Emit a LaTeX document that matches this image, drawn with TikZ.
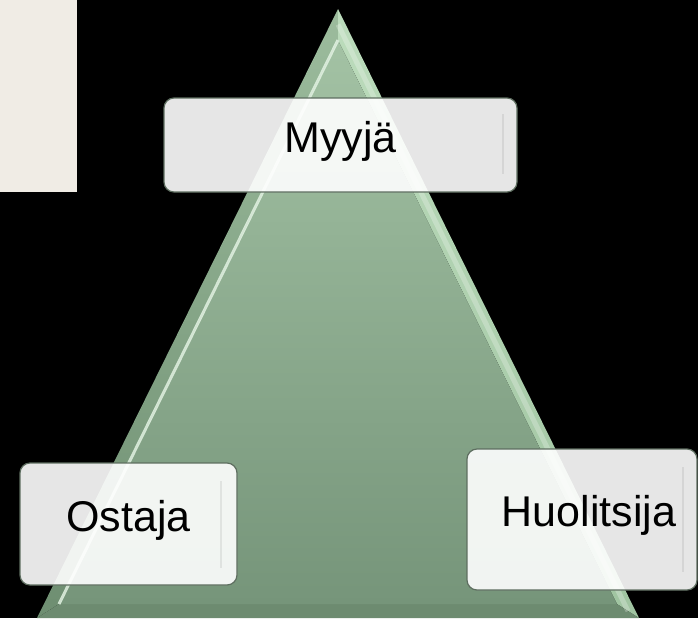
\documentclass[tikz,border=0pt]{standalone}
\usepackage{fontspec}
\setmainfont{Liberation Sans}
\usetikzlibrary{calc}
\definecolor{beige}{HTML}{F0ECE5}
\definecolor{boxline}{HTML}{5E6E60}
\definecolor{gtop}{HTML}{A3C2A4}
\definecolor{gbot}{HTML}{76957A}
\definecolor{ltop}{HTML}{9CBC9D}
\definecolor{lbot}{HTML}{6E8E71}
\definecolor{rtop}{HTML}{BCDCBC}
\definecolor{rbot}{HTML}{A0C4A1}
\definecolor{bface}{HTML}{6D8B70}
\definecolor{hilite}{HTML}{E2F2E2}
\tikzset{
  box/.style={draw=boxline, line width=0.6pt, fill=white, fill opacity=0.9, text opacity=1,
    rounded corners=5pt, font=\fontsize{21.5}{26}\selectfont, text height=0.72em, text depth=0pt},
  bevelline/.style={draw=black, draw opacity=0.07, line width=1pt}
}
\begin{document}
\begin{tikzpicture}[x=0.5pt,y=-0.5pt]
\useasboundingbox (0,0) rectangle (698,618);
\fill[black] (0,0) rectangle (698,618);
\fill[beige] (0,0) rectangle (77,192);
% triangle
\coordinate (A) at (338,9);
\coordinate (B) at (37,618);
\coordinate (C) at (639,618);
\coordinate (a) at (338,40);
\coordinate (b) at (59,604);
\coordinate (c) at (617,604);
\shade[top color=ltop, bottom color=lbot] (A) -- (B) -- (b) -- (a) -- cycle;
\shade[top color=rtop, bottom color=rbot] (A) -- (C) -- (c) -- (a) -- cycle;
\fill[bface] (B) -- (C) -- (c) -- (b) -- cycle;
\shade[top color=gtop, bottom color=gbot] (a) -- (b) -- (c) -- cycle;
\draw[hilite, line width=1.5pt, opacity=0.85] (a) -- (b);
\draw[white, line width=2.5pt, opacity=0.25] ($(A)!0.5!(a)$) -- ($(C)!0.5!(c)$);
% boxes
\node[box, minimum width=176.5pt, minimum height=47pt] (myyja) at (340.5,145) {Myyjä};
\node[box, minimum width=108.5pt, minimum height=61pt] (ostaja) at (128.5,524) {Ostaja};
\node[box, minimum width=115pt, minimum height=70.5pt] (huol) at (582,519.5) {\hspace*{7pt}Huolitsija};
\draw[bevelline] ($(myyja.north east)+(-15,17)$) -- ($(myyja.south east)+(-15,-19)$);
\draw[bevelline] ($(ostaja.north east)+(-17,19)$) -- ($(ostaja.south east)+(-17,-18)$);
\draw[bevelline] ($(huol.north east)+(-15,19)$) -- ($(huol.south east)+(-15,-19)$);
\end{tikzpicture}
\end{document}
